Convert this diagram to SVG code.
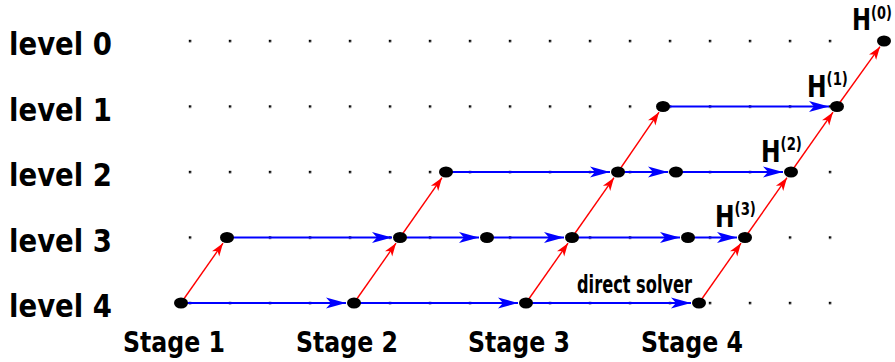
<svg xmlns="http://www.w3.org/2000/svg" width="895" height="362" viewBox="0 0 895 362">
<style>
.lbl{font-family:"DejaVu Sans","Liberation Sans",sans-serif;font-weight:bold;fill:#000}
.lv{font-size:32px}
.st{font-size:28px}
.h{font-size:30px}
.sup{font-size:17px}
.ds{font-size:24px}
.blue{stroke:#0000ff;stroke-width:2;fill:none;marker-end:url(#ab)}
.red{stroke:#ff0000;stroke-width:1.4;fill:none;marker-end:url(#ar)}
.node{fill:#000}
</style>
<defs>
<marker id="ab" markerUnits="userSpaceOnUse" markerWidth="22" markerHeight="12" refX="20" refY="6" orient="auto">
<path d="M0,0.5 L20,6 L0,11.5 L5,6 Z" fill="#0000ff"/>
</marker>
<marker id="ar" markerUnits="userSpaceOnUse" markerWidth="14" markerHeight="10" refX="13" refY="5" orient="auto">
<path d="M0,0.5 L13,5 L0,9.5 L3.5,5 Z" fill="#ff0000"/>
</marker>
<pattern id="dots" patternUnits="userSpaceOnUse" x="188.8" y="39.8" width="40" height="65.5">
<rect x="0" y="0" width="2.4" height="2.4" fill="#000"/>
</pattern>
</defs>
<rect width="895" height="362" fill="#fff"/>
<g id="grid">
<rect x="187" y="38" width="646" height="268" fill="url(#dots)"/>
</g>
<g id="labels">
<text class="lbl lv" x="9" y="55" textLength="103" lengthAdjust="spacingAndGlyphs">level 0</text>
<text class="lbl lv" x="9" y="120.5" textLength="103" lengthAdjust="spacingAndGlyphs">level 1</text>
<text class="lbl lv" x="9" y="186" textLength="103" lengthAdjust="spacingAndGlyphs">level 2</text>
<text class="lbl lv" x="9" y="251.5" textLength="103" lengthAdjust="spacingAndGlyphs">level 3</text>
<text class="lbl lv" x="9" y="317" textLength="103" lengthAdjust="spacingAndGlyphs">level 4</text>
<text class="lbl st" x="123" y="352" textLength="102" lengthAdjust="spacingAndGlyphs">Stage 1</text>
<text class="lbl st" x="296" y="352" textLength="102" lengthAdjust="spacingAndGlyphs">Stage 2</text>
<text class="lbl st" x="468" y="352" textLength="102" lengthAdjust="spacingAndGlyphs">Stage 3</text>
<text class="lbl st" x="641" y="352" textLength="102" lengthAdjust="spacingAndGlyphs">Stage 4</text>
<text class="lbl ds" x="577" y="293" textLength="115" lengthAdjust="spacingAndGlyphs">direct solver</text>
</g>
<g id="connectors">
<path class="blue" d="M181,303 H346"/>
<path class="blue" d="M354,303 H518"/>
<path class="blue" d="M526,303 H691"/>
<path class="blue" d="M227,237.5 H392"/>
<path class="blue" d="M400,237.5 H479"/>
<path class="blue" d="M487,237.5 H564"/>
<path class="blue" d="M572,237.5 H680"/>
<path class="blue" d="M688,237.5 H737"/>
<path class="blue" d="M446,172 H610"/>
<path class="blue" d="M618,172 H668"/>
<path class="blue" d="M676,172 H783"/>
<path class="blue" d="M663,106.5 H829"/>
<path class="red" d="M181,303 L223,243.2"/>
<path class="red" d="M354,303 L396,243.2"/>
<path class="red" d="M400,237.5 L442,177.7"/>
<path class="red" d="M526,303 L568,243.2"/>
<path class="red" d="M572,237.5 L614,177.7"/>
<path class="red" d="M618,172 L659,112.2"/>
<path class="red" d="M699,303 L741,243.2"/>
<path class="red" d="M745,237.5 L787,177.7"/>
<path class="red" d="M791,172 L833,112.2"/>
<path class="red" d="M837,106.5 L880,46.7"/>
</g>
<g id="nodes">
<ellipse id="n4a" class="node" cx="181" cy="303" rx="7" ry="5.5"/>
<ellipse id="n4b" class="node" cx="354" cy="303" rx="7" ry="5.5"/>
<ellipse id="n4c" class="node" cx="526" cy="303" rx="7" ry="5.5"/>
<ellipse id="n4d" class="node" cx="699" cy="303" rx="7" ry="5.5"/>
<ellipse id="n3a" class="node" cx="227" cy="237.5" rx="7" ry="5.5"/>
<ellipse id="n3b" class="node" cx="400" cy="237.5" rx="7" ry="5.5"/>
<ellipse id="n3c" class="node" cx="487" cy="237.5" rx="7" ry="5.5"/>
<ellipse id="n3d" class="node" cx="572" cy="237.5" rx="7" ry="5.5"/>
<ellipse id="n3e" class="node" cx="688" cy="237.5" rx="7" ry="5.5"/>
<ellipse id="n3f" class="node" cx="745" cy="237.5" rx="7" ry="5.5"/>
<ellipse id="n2a" class="node" cx="446" cy="172" rx="7" ry="5.5"/>
<ellipse id="n2b" class="node" cx="618" cy="172" rx="7" ry="5.5"/>
<ellipse id="n2c" class="node" cx="676" cy="172" rx="7" ry="5.5"/>
<ellipse id="n2d" class="node" cx="791" cy="172" rx="7" ry="5.5"/>
<ellipse id="n1a" class="node" cx="663" cy="106.5" rx="7" ry="5.5"/>
<ellipse id="n1b" class="node" cx="837" cy="106.5" rx="7" ry="5.5"/>
<ellipse id="n0a" class="node" cx="884" cy="41" rx="7" ry="5.5"/>
</g>
<g id="hlabels">
<text class="lbl" transform="translate(715,227) scale(0.78,1)"><tspan class="h">H</tspan><tspan class="sup" dy="-12">(3)</tspan></text>
<text class="lbl" transform="translate(761,161.5) scale(0.78,1)"><tspan class="h">H</tspan><tspan class="sup" dy="-12">(2)</tspan></text>
<text class="lbl" transform="translate(807,97) scale(0.78,1)"><tspan class="h">H</tspan><tspan class="sup" dy="-12">(1)</tspan></text>
<text class="lbl" transform="translate(852,30) scale(0.76,1)"><tspan class="h">H</tspan><tspan class="sup" dy="-11">(0)</tspan></text>
</g>
</svg>
